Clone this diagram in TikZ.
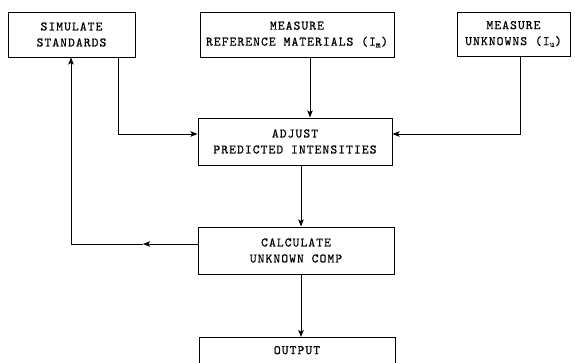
\documentclass[tikz,border=0pt]{standalone}
\usepackage{fontspec}
\newfontfamily\tw{lmmono10-regular}[Extension=.otf,LetterSpace=8,FakeBold=0.6]
\usetikzlibrary{arrows.meta}
\begin{document}
\begin{tikzpicture}[x=1pt,y=-1pt,
  box/.style={draw,line width=1pt,inner sep=0pt,align=center,
    font=\tw\fontsize{13}{16}\selectfont},
  conn/.style={line width=0.9pt},
  arr/.style={conn,-{Stealth[length=7pt,width=5.5pt,inset=1.5pt]}}]
\useasboundingbox (0,0) rectangle (575,362);
\begin{scope}
\clip (0,0) rectangle (575,362);
\node[box,minimum width=127pt,minimum height=45pt] (sim) at (71.5,34.5) {SIMULATE\\STANDARDS};
\node[box,minimum width=194pt,minimum height=45pt] (ref) at (297,34.5) {MEASURE\\REFERENCE MATERIALS (I\textsubscript{m})};
\node[box,minimum width=113pt,minimum height=44pt] (unk) at (513.5,34) {MEASURE\\UNKNOWNS (I\textsubscript{u})};
\node[box,minimum width=194pt,minimum height=47pt] (adj) at (295,141.5) {ADJUST\\PREDICTED INTENSITIES};
\node[box,minimum width=196pt,minimum height=47pt] (calc) at (296,250.5) {CALCULATE\\UNKNOWN COMP};
\node[box,minimum width=196pt,minimum height=46pt,anchor=north] (out) at (297,337) {OUTPUT\\\strut};
\end{scope}
\coordinate (xr) at (310,0);
\coordinate (xa) at (301,0);
\coordinate (xs) at (118,0);
\coordinate (xu) at (520,0);
\coordinate (xb) at (71,0);
\coordinate (yin) at (0,134);
\coordinate (yfb) at (0,244);
\coordinate (mid) at (143,244);
\draw[arr] (xr |- ref.south) -- (xr |- adj.north);
\draw[arr] (xs |- sim.south) |- (adj.west |- yin);
\draw[arr] (xu |- unk.south) |- (adj.east |- yin);
\draw[arr] (xa |- adj.south) -- (xa |- calc.north);
\draw[arr] (xa |- calc.south) -- (xa |- out.north);
\draw[arr] (calc.west |- yfb) -- (mid);
\draw[arr] (mid) -| (xb |- sim.south);
\end{tikzpicture}
\end{document}
